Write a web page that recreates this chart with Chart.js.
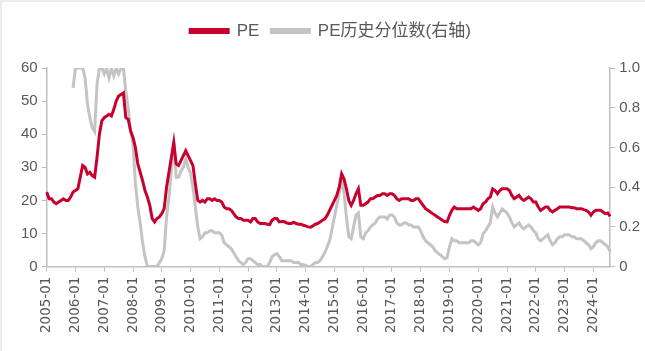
<!DOCTYPE html>
<html lang="zh">
<head>
<meta charset="utf-8" />
<title>PE</title>
<script src="https://cdn.jsdelivr.net/npm/chart.js"></script>
<style>
  html, body { margin: 0; padding: 0; background: #fff; }
  #wrap { position: relative; width: 645px; height: 351px; box-sizing: border-box; border-top: 2px solid #ececec; border-left: 2px solid #ececec; }
</style>
</head>
<body>
<div id="wrap">
  <canvas id="peChart" width="643" height="349"></canvas>
</div>
<script>
// monthly, 2005-01 .. 2024-08
const startYear = 2005;
const monthCount = 236;

// PE (left axis)
const peValues = [
  22.5, 20.5, 20.5, 19.5, 19, 19.5, 20, 20.5, 20, 20, 21, 22.5,
  23, 23.5, 27, 30.5, 30, 28, 28.5, 27.5, 27, 33, 40, 44,
  45, 45.5, 46, 45.5, 47.5, 50, 51.5, 52, 52.5, 45, 44.5, 41,
  39, 36, 31, 28.5, 26, 23, 21, 18.5, 14.5, 13.5, 14.5, 15,
  16, 17.5, 24, 28.5, 33, 37.5, 31, 30.5, 32, 33.5, 35, 33.5,
  32, 30.5, 25, 20, 19.5, 20, 19.5, 20.5, 20.5, 20, 20.5, 20,
  20, 19.5, 18, 17.5, 17.5, 17, 16, 15, 14.5, 14.5, 14, 14,
  14, 13.5, 14.5, 14.5, 13.5, 13, 13, 13, 12.8, 12.7, 14, 14.5,
  14.5, 13.5, 13.6, 13.6, 13.2, 13, 13, 13.4, 13, 12.8, 12.8, 12.5,
  12.3, 12, 11.9, 12.3, 12.8, 13, 13.5, 14, 14.4, 15.5, 17, 18.5,
  20, 21.5, 24, 28, 26.5, 23.5, 20, 18.5, 20, 22, 23.5, 18.5,
  18.5, 19, 19.5, 20.5, 20.5, 21, 21.5, 21.5, 22, 22, 21.5, 22,
  22, 21.5, 20.5, 20, 20.5, 20.5, 20.5, 20.5, 20, 20, 20.5, 20.5,
  19.5, 18.5, 17.5, 17, 16.5, 16, 15.5, 15, 14.5, 14, 13.6, 13.5,
  15.5, 17, 18, 17.5, 17.5, 17.5, 17.5, 17.5, 17.5, 17.5, 18, 17.5,
  17, 17.5, 19, 19.5, 20.5, 21, 23.5, 23, 22, 23, 23.5, 23.5,
  23.5, 23, 21.5, 20.5, 21, 21.5, 20.5, 20, 20.5, 21, 20.5, 19.5,
  19.5, 18, 17, 17.5, 18, 18, 17, 16.5, 17, 17.5, 18, 18,
  18, 18, 18, 17.8, 17.8, 17.5, 17.5, 17.5, 17.2, 17, 16.5, 15.5,
  16.5, 17, 17, 17, 16.5, 16, 16.2, 15.2
];

// PE historical percentile (right axis)
const pctValues = [
  null, null, null, null, null, null, null, null, null, null, null, 0.9,
  1, 1, 1, 1, 0.95, 0.82, 0.75, 0.7, 0.68, 0.92, 1, 1,
  0.97, 1, 0.95, 1, 0.96, 1, 0.97, 1, 1, 0.88, 0.8, 0.68,
  0.62, 0.42, 0.3, 0.22, 0.12, 0.05, 0, 0, 0, 0, 0, 0.02,
  0.04, 0.08, 0.25, 0.35, 0.48, 0.63, 0.45, 0.45, 0.48, 0.5, 0.54, 0.5,
  0.47, 0.4, 0.3, 0.2, 0.14, 0.15, 0.17, 0.17, 0.18, 0.18, 0.17, 0.17,
  0.17, 0.16, 0.12, 0.11, 0.1, 0.09, 0.07, 0.05, 0.03, 0.02, 0.01, 0.02,
  0.04, 0.04, 0.03, 0.02, 0.01, 0.01, 0, 0, 0, 0.02, 0.05, 0.06,
  0.065, 0.05, 0.03, 0.03, 0.03, 0.03, 0.03, 0.02, 0.02, 0.02, 0.01, 0.01,
  0.005, 0, 0, 0.01, 0.02, 0.02, 0.03, 0.05, 0.07, 0.1, 0.13, 0.19,
  0.25, 0.31, 0.37, 0.44, 0.37, 0.25, 0.15, 0.14, 0.2, 0.26, 0.27, 0.15,
  0.14, 0.17, 0.18, 0.2, 0.21, 0.22, 0.24, 0.25, 0.25, 0.25, 0.24, 0.26,
  0.26, 0.25, 0.22, 0.21, 0.21, 0.22, 0.22, 0.21, 0.21, 0.2, 0.2, 0.2,
  0.18, 0.15, 0.13, 0.12, 0.11, 0.1, 0.08, 0.07, 0.06, 0.05, 0.04, 0.045,
  0.1, 0.14, 0.13, 0.13, 0.12, 0.12, 0.12, 0.12, 0.12, 0.13, 0.13, 0.12,
  0.11, 0.12, 0.165, 0.18, 0.2, 0.22, 0.3, 0.27, 0.25, 0.27, 0.29, 0.28,
  0.27, 0.25, 0.22, 0.2, 0.21, 0.22, 0.2, 0.19, 0.2, 0.21, 0.2, 0.18,
  0.17, 0.14, 0.13, 0.14, 0.15, 0.16, 0.13, 0.11, 0.12, 0.14, 0.15, 0.15,
  0.16, 0.16, 0.16, 0.15, 0.15, 0.14, 0.14, 0.14, 0.13, 0.12, 0.11, 0.09,
  0.1, 0.12, 0.13, 0.13, 0.12, 0.11, 0.1, 0.075
];

const leftTicks = [0, 10, 20, 30, 40, 50, 60];
const rightTicks = [0, 0.2, 0.4, 0.6, 0.8, 1];

// month labels like 2005-01
const labels = [];
for (let i = 0; i < monthCount; i++) {
  const y = startYear + Math.floor(i / 12);
  const m = (i % 12) + 1;
  labels.push(y + '-' + (m < 10 ? '0' + m : m));
}

const axisGrey = '#bfbfbf';
const textGrey = '#595959';

// legend needs more room below it than chart.js gives by default
const legendSpace = {
  id: 'legendSpace',
  beforeLayout(chart) {
    const lg = chart.legend;
    if (lg && !lg._patched) {
      const fit = lg.fit;
      lg.fit = function () {
        fit.call(this);
        this.height = 57.5;
      };
      lg._patched = true;
    }
  }
};

new Chart(document.getElementById('peChart'), {
  type: 'line',
  data: {
    labels: labels,
    datasets: [
      {
        label: 'PE',
        data: peValues,
        yAxisID: 'y',
        borderColor: '#c8002d',
        backgroundColor: '#c8002d',
        borderWidth: 3,
        pointRadius: 0,
        tension: 0,
        order: 1
      },
      {
        label: 'PE历史分位数(右轴)',
        data: pctValues,
        yAxisID: 'y1',
        borderColor: '#c4c4c4',
        backgroundColor: '#c4c4c4',
        borderWidth: 3,
        pointRadius: 0,
        tension: 0,
        order: 2
      }
    ]
  },
  plugins: [legendSpace],
  options: {
    responsive: false,
    animation: false,
    layout: { padding: { left: 15, right: 1, top: 8.5, bottom: 13 } },
    plugins: {
      legend: {
        display: true,
        position: 'top',
        labels: {
          boxWidth: 38,
          boxHeight: 3,
          color: textGrey,
          font: { family: 'Liberation Sans, Arial, Noto Sans CJK SC', size: 17 },
          padding: 12
        }
      },
      tooltip: { enabled: false }
    },
    scales: {
      x: {
        type: 'category',
        offset: false,
        grid: { drawOnChartArea: false, drawTicks: true, tickLength: 5, color: axisGrey },
        border: { display: true, color: axisGrey, width: 1.5 },
        ticks: {
          autoSkip: false,
          maxRotation: 90,
          minRotation: 90,
          padding: 5,
          color: textGrey,
          font: { family: 'DejaVu Sans', size: 13.5 },
          callback: function (v, i) {
            return labels[i].endsWith('-01') ? labels[i] : null;
          }
        }
      },
      y: {
        position: 'left',
        min: 0,
        max: 60,
        afterBuildTicks: axis => { axis.ticks = leftTicks.map(v => ({ value: v })); },
        grid: { drawOnChartArea: false, drawTicks: true, tickLength: 5, color: axisGrey },
        border: { display: true, color: axisGrey, width: 1.5 },
        ticks: { color: textGrey, font: { family: 'Liberation Sans, Arial', size: 15 }, padding: 4 }
      },
      y1: {
        position: 'right',
        min: 0,
        max: 1,
        afterBuildTicks: axis => { axis.ticks = rightTicks.map(v => ({ value: v })); },
        grid: { drawOnChartArea: false, drawTicks: true, tickLength: 5, color: axisGrey },
        border: { display: true, color: axisGrey, width: 1.5 },
        ticks: { color: textGrey, font: { family: 'Liberation Sans, Arial', size: 15 }, padding: 4 }
      }
    }
  }
});
</script>
</body>
</html>
